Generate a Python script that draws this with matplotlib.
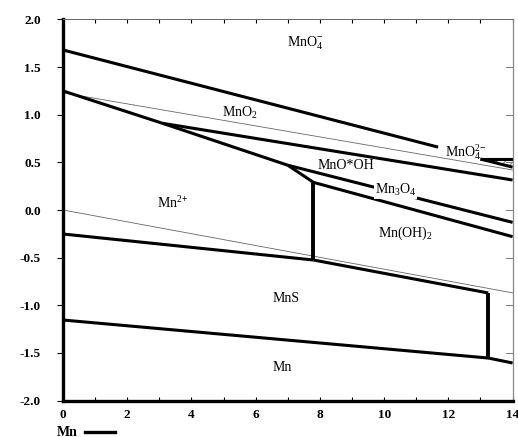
import matplotlib.pyplot as plt
from matplotlib.lines import Line2D

plt.rcParams['font.family'] = 'Liberation Serif'
plt.rcParams['mathtext.fontset'] = 'custom'
plt.rcParams['mathtext.rm'] = 'Liberation Serif'
plt.rcParams['mathtext.it'] = 'Liberation Serif'
plt.rcParams['mathtext.bf'] = 'Liberation Serif:bold'

# water stability lines (pH, E)
o2_ph, o2_e = [0, 14], [1.23, 0.42]
h2_ph, h2_e = [0, 14], [0.0, -0.87]

# Mn species boundaries (pH, E)
mno4_mno2_ph, mno4_mno2_e = [0, 11.68], [1.68, 0.66]
mn2_mno2_ph, mn2_mno2_e = [0, 3.1], [1.25, 0.91]
mno2_mnooh_ph, mno2_mnooh_e = [3.1, 14], [0.91, 0.315]
mn2_mnooh_ph, mn2_mnooh_e = [3.1, 7.0], [0.91, 0.47]
mnooh_mn3o4_ph, mnooh_mn3o4_e = [7.0, 14], [0.47, -0.13]
mn2_mn3o4_ph, mn2_mn3o4_e = [7.0, 7.8], [0.47, 0.29]
mn3o4_mnoh2_ph, mn3o4_mnoh2_e = [7.8, 14], [0.29, -0.28]
mn2_mnoh2_ph, mn2_mnoh2_e = [7.8, 7.8], [0.29, -0.525]
mn2_mns_ph, mn2_mns_e = [0, 7.8], [-0.252, -0.525]
mns_mnoh2_ph, mns_mnoh2_e = [7.8, 13.24], [-0.525, -0.871]
mns_mnoh2_v_ph, mns_mnoh2_v_e = [13.24, 13.24], [-0.871, -1.554]
mn_mn2_ph, mn_mn2_e = [0, 13.24], [-1.155, -1.554]
mn_mnoh2_ph, mn_mnoh2_e = [13.24, 14], [-1.554, -1.606]
mno4_mno42_ph, mno4_mno42_e = [13.0, 14], [0.535, 0.535]
mno42_mno2_ph, mno42_mno2_e = [13.0, 14], [0.535, 0.45]

# region labels: text, pH, E, white backing
labels = [
    (r'MnO$_4^{\mathbf{-}}$', 6.98, 1.75, False),
    (r'MnO$_2$', 4.95, 1.02, False),
    (r'MnO$_4^{2\mathbf{-}}$', 11.9, 0.61, False),
    ('MnO*OH', 7.94, 0.47, False),
    (r'Mn$_3$O$_4$', 9.72, 0.21, True),
    (r'Mn(OH)$_2$', 9.81, -0.24, False),
    (r'Mn$^{2\mathbf{+}}$', 2.93, 0.07, False),
    ('MnS', 6.54, -0.934, False),
    ('Mn', 6.54, -1.65, False),
]

fig = plt.figure(figsize=(5.18, 4.37), dpi=100)
ax = fig.add_axes([0.1216, 0.0835, 0.8680, 0.8719])

thin = dict(color='#666666', lw=0.6)
thick = dict(color='black', lw=2.2, solid_capstyle='butt')
vert = dict(color='black', lw=2.8, solid_capstyle='butt')

ax.plot(o2_ph, o2_e, **thin)
ax.plot(h2_ph, h2_e, **thin)

for ph, e in [(mno4_mno2_ph, mno4_mno2_e), (mn2_mno2_ph, mn2_mno2_e),
              (mno2_mnooh_ph, mno2_mnooh_e), (mn2_mnooh_ph, mn2_mnooh_e),
              (mnooh_mn3o4_ph, mnooh_mn3o4_e), (mn2_mn3o4_ph, mn2_mn3o4_e),
              (mn3o4_mnoh2_ph, mn3o4_mnoh2_e), (mn2_mns_ph, mn2_mns_e),
              (mns_mnoh2_ph, mns_mnoh2_e), (mn_mn2_ph, mn_mn2_e),
              (mn_mnoh2_ph, mn_mnoh2_e), (mno4_mno42_ph, mno4_mno42_e),
              (mno42_mno2_ph, mno42_mno2_e)]:
    ax.plot(ph, e, **thick)

ax.plot(mn2_mnoh2_ph, mn2_mnoh2_e, **vert)
ax.plot(mns_mnoh2_v_ph, mns_mnoh2_v_e, **vert)

# small MnO4 2- wedge near the right edge
ax.fill_between(mno4_mno42_ph, mno4_mno42_e, mno42_mno2_e,
                facecolor='none', edgecolor='#999999', hatch='////', lw=0)

for text, x, y, backed in labels:
    box = dict(facecolor='white', edgecolor='none', pad=0.5) if backed else None
    ax.text(x, y, text, fontsize=10, ha='left', va='center', color='black',
            bbox=box)

ax.set_xlim(0, 14)
ax.set_ylim(-2, 2)
ax.set_xticks(range(0, 15, 2))
ax.set_xticks(range(0, 15), minor=True)
ax.set_yticks([-2.0, -1.5, -1.0, -0.5, 0.0, 0.5, 1.0, 1.5, 2.0])
ax.set_yticklabels(['-2.0', '-1.5', '-1.0', '-0.5', '0.0', '0.5', '1.0', '1.5', '2.0'])

for lab in ax.get_xticklabels() + ax.get_yticklabels():
    lab.set_fontweight('bold')
    lab.set_fontsize(9.5)

ax.tick_params(axis='x', which='both', direction='in', top=True, bottom=True,
               length=3, width=0.8, pad=6)
ax.tick_params(axis='y', which='both', direction='out', left=True, right=False,
               length=4, width=0.8, pad=12)

# inward ticks on the right side
for v in [-2.0, -1.5, -1.0, -0.5, 0.0, 0.5, 1.0, 1.5, 2.0]:
    ax.plot([13.78, 14], [v, v], color='#666666', lw=0.6, clip_on=False)

ax.spines['left'].set_linewidth(2.4)
ax.spines['bottom'].set_linewidth(2.4)
ax.spines['top'].set_linewidth(0.7)
ax.spines['top'].set_color('#666666')
ax.spines['right'].set_linewidth(0.9)
ax.spines['right'].set_color('#888888')

# legend entry below the axes
fig.text(57 / 518, 1 - 432 / 437, 'Mn', fontsize=10, fontweight='bold',
         ha='left', va='center')
fig.add_artist(Line2D([85 / 518, 115 / 518], [1 - 432 / 437, 1 - 432 / 437],
                      color='black', lw=2.4))

fig.savefig('out.png', dpi=100)
